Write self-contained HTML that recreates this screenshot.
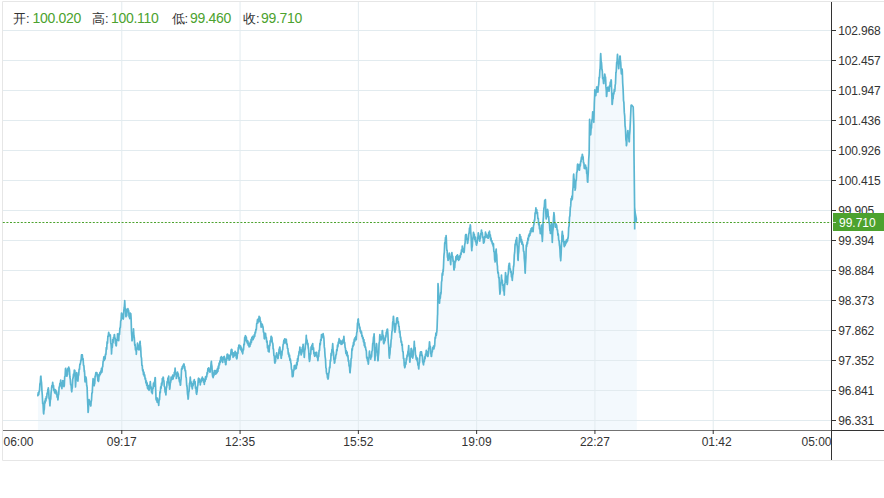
<!DOCTYPE html>
<html><head><meta charset="utf-8"><style>
html,body{margin:0;padding:0;background:#fff;width:884px;height:498px;overflow:hidden}
svg{position:absolute;left:0;top:0;font-family:"Liberation Sans",sans-serif}
</style></head><body>
<svg width="884" height="498" viewBox="0 0 884 498">
<path d="M2.5 460.5V1.5H884M2.5 460.5H884" fill="none" stroke="#e6e6e6"/>
<path d="M37.9 394.4 L39.2 391.8 L40.9 376.1 L41.8 387.9 L42.7 402.2 L43.7 414.0 L44.8 402.2 L46.4 397.0 L47.4 393.1 L48.3 387.9 L49.0 397.0 L50.0 404.8 L51.6 387.9 L52.6 383.3 L54.2 390.5 L56.2 392.4 L58.1 398.3 L59.4 386.6 L60.7 382.0 L61.8 387.2 L62.7 380.7 L64.0 386.6 L65.7 368.3 L67.0 376.1 L67.9 369.6 L69.2 368.3 L70.5 382.6 L71.8 391.8 L73.1 377.3 L74.8 370.3 L75.5 385.7 L76.9 373.1 L77.9 380.1 L79.7 366.0 L80.7 361.8 L81.8 354.8 L82.9 359.0 L84.4 370.3 L84.9 380.1 L86.0 377.3 L87.2 389.9 L88.1 412.4 L89.1 399.7 L90.0 403.9 L90.9 405.4 L92.4 389.9 L93.1 378.7 L94.2 385.7 L95.6 374.5 L97.0 373.1 L98.4 381.5 L99.4 374.5 L100.8 371.7 L102.2 369.6 L103.6 359.0 L105.0 358.3 L106.4 349.2 L108.5 333.6 L110.3 336.0 L111.5 351.6 L112.7 342.0 L114.5 334.8 L116.0 345.6 L117.5 336.0 L118.7 338.4 L120.5 325.1 L121.7 313.0 L123.2 319.1 L124.7 301.6 L126.0 316.7 L127.2 310.7 L128.4 310.0 L129.6 317.9 L130.8 313.7 L132.0 340.8 L133.5 330.5 L134.9 345.6 L136.3 352.6 L137.7 344.2 L139.1 349.8 L140.1 341.4 L141.2 356.9 L142.4 368.1 L143.3 372.3 L144.7 376.5 L146.2 382.1 L147.6 386.3 L149.0 389.2 L150.4 382.8 L151.1 389.2 L152.2 392.0 L153.2 386.3 L154.2 383.5 L155.3 377.9 L156.0 399.0 L157.4 400.4 L158.8 403.9 L159.8 394.8 L160.9 387.8 L162.3 380.7 L163.4 377.9 L164.4 386.3 L165.8 394.1 L167.2 382.1 L168.6 377.2 L169.6 389.2 L171.0 379.3 L172.8 377.2 L174.2 375.1 L175.2 369.5 L176.3 376.5 L177.8 373.7 L179.2 380.0 L180.6 384.7 L181.7 368.6 L184.1 364.6 L185.7 372.6 L188.1 399.1 L190.2 378.2 L192.2 387.9 L193.8 381.4 L195.0 383.1 L196.7 394.3 L198.6 378.2 L200.2 383.1 L202.1 378.2 L204.2 382.3 L206.6 376.6 L208.2 368.6 L210.2 371.8 L211.4 361.4 L212.7 376.6 L214.7 371.8 L217.1 371.8 L219.5 363.8 L221.1 358.1 L222.7 360.5 L224.3 356.5 L225.6 364.6 L227.5 354.1 L229.5 359.7 L231.5 349.3 L233.2 355.7 L235.6 352.5 L236.8 358.9 L238.8 345.3 L241.2 348.5 L242.8 352.5 L245.2 336.4 L247.6 342.9 L249.2 346.1 L251.6 339.6 L254.0 337.2 L256.1 330.0 L257.2 322.1 L259.6 317.2 L261.2 325.3 L262.8 326.1 L264.5 338.9 L265.6 334.1 L267.7 347.0 L268.8 351.8 L270.1 342.2 L271.4 336.5 L273.0 345.4 L274.9 363.1 L276.5 353.4 L278.1 358.2 L279.7 347.0 L281.3 358.2 L283.7 341.4 L286.2 340.5 L288.6 353.4 L290.7 361.4 L292.6 376.7 L294.5 366.3 L296.1 367.9 L298.2 357.4 L299.8 348.6 L301.4 354.2 L303.0 345.4 L304.2 356.6 L306.3 337.3 L308.3 347.0 L309.5 361.4 L311.1 348.6 L312.7 344.6 L314.3 355.0 L316.4 353.4 L318.0 359.8 L319.9 345.4 L321.5 335.7 L323.5 335.7 L324.7 350.2 L326.3 371.1 L328.0 379.1 L329.6 367.9 L331.2 355.0 L332.8 345.4 L334.4 363.1 L336.0 355.0 L337.6 345.4 L339.2 340.5 L341.6 343.8 L344.0 338.1 L345.6 350.2 L348.0 356.6 L350.1 372.7 L352.1 348.6 L354.0 342.2 L355.1 338.8 L356.4 337.2 L358.0 319.5 L359.6 327.5 L361.3 333.1 L363.7 341.2 L366.1 350.0 L366.9 358.1 L368.5 362.9 L369.3 352.4 L370.6 357.3 L371.7 354.8 L372.8 343.6 L374.1 333.9 L374.9 360.5 L376.5 343.6 L378.1 360.5 L379.7 336.4 L381.4 339.6 L382.5 330.7 L383.8 343.6 L385.4 337.2 L387.5 329.1 L389.4 358.1 L391.5 337.2 L393.4 316.3 L395.0 332.3 L396.9 317.9 L398.6 324.3 L400.2 335.5 L402.3 346.8 L404.7 367.7 L406.3 360.5 L407.9 353.2 L408.7 346.8 L409.8 362.1 L411.4 348.4 L412.7 358.1 L414.3 342.8 L415.9 356.4 L417.5 360.5 L418.8 368.5 L420.3 352.4 L422.0 354.8 L423.2 363.7 L424.8 358.1 L426.4 351.6 L428.0 356.4 L429.6 342.0 L431.2 356.4 L432.8 348.4 L434.4 346.8 L435.2 337.2 L436.8 332.3 L437.6 314.6 L438.0 283.7 L439.3 302.2 L440.9 294.1 L442.1 274.8 L443.2 271.6 L444.1 253.9 L444.8 242.7 L446.1 235.5 L446.9 250.7 L448.0 260.4 L449.3 253.1 L450.6 263.6 L451.7 253.9 L453.3 260.4 L454.1 270.0 L455.7 259.6 L457.3 255.5 L458.9 259.6 L460.5 254.7 L462.2 248.3 L464.1 252.3 L465.7 234.6 L467.8 242.7 L469.4 229.8 L470.5 225.8 L471.8 250.7 L473.4 233.0 L475.3 239.5 L476.6 245.1 L478.2 233.8 L479.8 241.1 L481.4 230.6 L483.9 242.7 L485.5 233.8 L487.9 237.9 L489.2 232.2 L491.1 239.5 L493.5 245.9 L495.1 262.0 L496.2 249.1 L497.5 268.4 L499.1 278.1 L499.9 294.1 L501.5 276.4 L503.2 287.7 L504.3 293.3 L505.6 273.2 L507.2 284.5 L509.1 263.6 L510.7 271.6 L512.3 279.7 L513.6 266.8 L515.2 244.3 L516.8 239.5 L518.1 260.4 L519.7 234.6 L521.3 241.1 L522.9 244.3 L524.1 253.9 L525.2 273.2 L526.3 247.0 L528.2 238.2 L530.1 233.4 L531.7 228.6 L533.0 230.2 L534.3 221.3 L535.9 209.3 L537.5 214.1 L538.7 223.7 L540.3 231.8 L541.5 226.9 L542.3 241.4 L543.5 214.1 L544.6 202.0 L545.4 199.6 L546.2 218.9 L547.5 209.3 L549.1 222.1 L550.4 233.4 L551.5 223.7 L552.3 241.4 L553.9 212.5 L555.2 226.9 L556.3 224.5 L557.9 233.4 L559.5 244.6 L560.7 260.7 L561.9 236.6 L562.4 232.5 L564.0 244.6 L566.0 242.6 L568.0 238.5 L569.7 216.4 L571.1 200.3 L572.5 196.3 L573.7 174.1 L575.1 190.2 L576.1 180.2 L577.7 164.1 L579.1 170.1 L581.1 160.1 L582.5 155.0 L584.1 166.1 L586.2 168.1 L587.8 182.2 L589.2 150.0 L589.6 119.4 L590.6 133.5 L591.5 126.5 L592.7 113.8 L593.8 122.3 L594.8 89.9 L595.8 95.5 L596.9 87.0 L598.0 91.3 L599.0 80.3 L600.1 69.1 L600.6 54.6 L601.7 65.9 L602.5 75.5 L603.8 83.6 L604.9 74.7 L605.7 80.3 L606.5 96.4 L607.6 87.6 L608.9 90.0 L610.2 83.6 L611.3 80.3 L612.1 104.4 L613.7 93.2 L615.0 88.4 L616.1 72.3 L617.4 55.4 L618.6 67.5 L620.2 56.2 L621.4 73.9 L622.1 69.1 L623.4 96.4 L625.2 126.4 L626.4 145.7 L627.7 131.2 L629.3 141.7 L631.1 105.2 L631.6 105.0 L633.2 107.0 L633.8 125.0 L634.0 155.0 L634.6 206.0 L634.7 229.6 L636.8 229.7 L636.8 430 L37.9 430 Z" fill="#f3f9fd" stroke="none"/>
<path d="M3 30.5H831M3 60.5H831M3 90.5H831M3 120.5H831M3 150.5H831M3 180.5H831M3 210.5H831M3 240.5H831M3 270.5H831M3 300.5H831M3 330.5H831M3 360.5H831M3 390.5H831M3 420.5H831M121.79 2V430M240.07 2V430M358.36 2V430M476.64 2V430M594.93 2V430M713.21 2V430" stroke="#e2ebef" stroke-width="1" fill="none"/>
<path d="M37.9 394.4 L37.9 395.7 L38.3 392.6 L38.7 394.6 L39.1 391.2 L39.2 391.8 L39.5 390.6 L39.9 384.0 L40.3 382.5 L40.7 376.4 L40.9 376.1 L41.1 379.5 L41.5 382.5 L41.8 387.9 L41.9 390.3 L42.3 395.0 L42.7 403.6 L42.7 402.2 L43.1 404.8 L43.5 412.6 L43.7 414.0 L43.9 410.8 L44.3 409.3 L44.7 401.0 L44.8 402.2 L45.1 402.9 L45.5 398.5 L45.9 401.0 L46.3 396.5 L46.4 397.0 L46.7 398.0 L47.1 393.1 L47.4 393.1 L47.5 393.5 L47.9 389.3 L48.3 389.1 L48.3 387.9 L48.7 391.0 L49.0 397.0 L49.1 398.8 L49.5 399.2 L49.9 405.8 L50.0 404.8 L50.3 400.3 L50.7 399.0 L51.1 392.4 L51.5 389.8 L51.6 387.9 L51.9 385.5 L52.3 386.5 L52.6 383.3 L52.7 382.3 L53.1 386.8 L53.5 385.6 L53.9 390.6 L54.2 390.5 L54.3 389.4 L54.7 393.0 L55.1 389.5 L55.5 392.9 L55.9 390.4 L56.2 392.4 L56.3 394.3 L56.7 391.8 L57.1 397.1 L57.5 395.2 L57.9 400.0 L58.1 398.3 L58.3 395.6 L58.7 394.3 L59.1 387.3 L59.4 386.6 L59.5 387.2 L59.9 383.3 L60.3 384.2 L60.7 380.2 L60.7 382.0 L61.1 385.9 L61.5 384.1 L61.8 387.2 L61.9 388.7 L62.3 382.3 L62.7 382.6 L62.7 380.7 L63.1 380.8 L63.5 386.0 L63.9 384.7 L64.0 386.6 L64.3 385.5 L64.7 376.8 L65.1 376.3 L65.5 368.6 L65.7 368.3 L65.9 370.3 L66.3 370.0 L66.7 376.1 L67.0 376.1 L67.1 373.0 L67.5 374.6 L67.9 368.4 L67.9 369.6 L68.3 370.6 L68.7 367.0 L69.1 369.2 L69.2 368.3 L69.5 370.1 L69.9 377.0 L70.3 379.5 L70.5 382.6 L70.7 384.8 L71.1 384.8 L71.5 390.6 L71.8 391.8 L71.9 389.5 L72.3 387.6 L72.7 379.6 L73.1 377.3 L73.1 378.2 L73.5 374.2 L73.9 375.6 L74.3 370.2 L74.7 372.8 L74.8 370.3 L75.1 374.7 L75.5 385.7 L75.5 386.9 L75.9 380.7 L76.3 379.8 L76.7 372.7 L76.9 373.1 L77.1 376.8 L77.5 376.3 L77.9 380.1 L77.9 381.1 L78.3 375.9 L78.7 374.9 L79.1 369.2 L79.5 369.3 L79.7 366.0 L79.9 364.0 L80.3 364.2 L80.7 361.8 L80.7 360.4 L81.1 360.6 L81.5 355.0 L81.8 354.8 L81.9 357.5 L82.3 354.8 L82.7 359.8 L82.9 359.0 L83.1 358.7 L83.5 365.4 L83.9 365.7 L84.3 371.8 L84.4 370.3 L84.7 374.1 L84.9 380.1 L85.1 381.8 L85.5 376.5 L85.9 378.9 L86.0 377.3 L86.3 379.1 L86.7 385.5 L87.1 387.1 L87.2 389.9 L87.5 398.2 L87.9 406.6 L88.1 412.4 L88.3 410.9 L88.7 403.8 L89.1 399.7 L89.1 401.0 L89.5 400.8 L89.9 404.2 L90.0 403.9 L90.3 403.4 L90.7 406.0 L90.9 405.4 L91.1 402.0 L91.5 400.0 L91.9 392.9 L92.3 392.7 L92.4 389.9 L92.7 384.1 L93.1 378.7 L93.1 379.8 L93.5 379.9 L93.9 385.1 L94.2 385.7 L94.3 384.0 L94.7 383.8 L95.1 376.1 L95.5 376.8 L95.6 374.5 L95.9 372.7 L96.3 374.7 L96.7 372.5 L97.0 373.1 L97.1 375.0 L97.5 374.9 L97.9 380.6 L98.3 379.9 L98.4 381.5 L98.7 380.2 L99.1 374.3 L99.4 374.5 L99.5 375.9 L99.9 372.5 L100.3 374.3 L100.7 371.1 L100.8 371.7 L101.1 372.9 L101.5 368.3 L101.9 372.2 L102.2 369.6 L102.3 367.0 L102.7 367.0 L103.1 361.4 L103.5 360.8 L103.6 359.0 L103.9 356.8 L104.3 360.3 L104.7 356.4 L105.0 358.3 L105.1 358.9 L105.5 354.0 L105.9 354.5 L106.3 347.5 L106.4 349.2 L106.7 349.1 L107.1 341.9 L107.5 343.1 L107.9 336.1 L108.3 336.2 L108.5 333.6 L108.7 332.3 L109.1 335.7 L109.5 334.2 L109.9 336.2 L110.3 336.0 L110.3 334.8 L110.7 342.4 L111.1 344.5 L111.5 351.6 L111.5 353.9 L111.9 346.9 L112.3 347.5 L112.7 342.0 L112.7 339.6 L113.1 342.7 L113.5 337.5 L113.9 338.3 L114.3 334.5 L114.5 334.8 L114.7 337.3 L115.1 338.1 L115.5 343.8 L115.9 342.6 L116.0 345.6 L116.3 345.8 L116.7 339.6 L117.1 340.4 L117.5 336.0 L117.5 333.9 L117.9 337.7 L118.3 335.8 L118.7 338.4 L118.7 340.6 L119.1 333.4 L119.5 334.5 L119.9 328.0 L120.3 327.6 L120.5 325.1 L120.7 321.0 L121.1 320.3 L121.5 313.0 L121.7 313.0 L121.9 316.2 L122.3 314.1 L122.7 318.5 L123.1 316.4 L123.2 319.1 L123.5 317.5 L123.9 309.9 L124.3 307.2 L124.7 301.6 L124.7 300.6 L125.1 308.5 L125.5 308.8 L125.9 316.5 L126.0 316.7 L126.3 313.1 L126.7 315.6 L127.1 309.4 L127.2 310.7 L127.5 311.8 L127.9 308.6 L128.3 311.0 L128.4 310.0 L128.7 311.2 L129.1 317.0 L129.5 315.4 L129.6 317.9 L129.9 318.5 L130.3 313.2 L130.7 315.5 L130.8 313.7 L131.1 318.3 L131.5 331.6 L131.9 337.5 L132.0 340.8 L132.3 339.9 L132.7 334.8 L133.1 334.4 L133.5 330.5 L133.5 328.8 L133.9 336.0 L134.3 337.7 L134.7 344.4 L134.9 345.6 L135.1 344.4 L135.5 349.9 L135.9 349.1 L136.3 352.6 L136.3 354.3 L136.7 348.0 L137.1 349.2 L137.5 343.1 L137.7 344.2 L137.9 346.6 L138.3 345.0 L138.7 349.8 L139.1 349.8 L139.1 349.0 L139.5 347.9 L139.9 342.1 L140.1 341.4 L140.3 344.9 L140.7 347.8 L141.1 356.5 L141.2 356.9 L141.5 358.2 L141.9 365.4 L142.3 365.5 L142.4 368.1 L142.7 370.8 L143.1 369.8 L143.3 372.3 L143.5 374.6 L143.9 372.1 L144.3 376.2 L144.7 376.5 L144.7 374.8 L145.1 379.1 L145.5 378.3 L145.9 383.0 L146.2 382.1 L146.3 380.8 L146.7 385.3 L147.1 382.8 L147.5 388.3 L147.6 386.3 L147.9 385.5 L148.3 389.5 L148.7 387.0 L149.0 389.2 L149.1 390.3 L149.5 385.0 L149.9 386.6 L150.3 381.6 L150.4 382.8 L150.7 387.1 L151.1 389.2 L151.1 386.9 L151.5 392.1 L151.9 389.0 L152.2 392.0 L152.3 393.7 L152.7 388.0 L153.1 388.5 L153.2 386.3 L153.5 383.2 L153.9 386.5 L154.2 383.5 L154.3 382.0 L154.7 381.9 L155.1 377.5 L155.3 377.9 L155.5 384.8 L155.9 394.9 L156.0 399.0 L156.3 400.1 L156.7 397.9 L157.1 402.1 L157.4 400.4 L157.5 398.4 L157.9 402.6 L158.3 400.7 L158.7 405.5 L158.8 403.9 L159.1 400.2 L159.5 399.7 L159.8 394.8 L159.9 391.8 L160.3 392.7 L160.7 386.8 L160.9 387.8 L161.1 388.2 L161.5 383.2 L161.9 385.1 L162.3 380.7 L162.3 378.6 L162.7 380.7 L163.1 377.2 L163.4 377.9 L163.5 380.3 L163.9 380.8 L164.3 386.5 L164.4 386.3 L164.7 386.7 L165.1 392.1 L165.5 391.7 L165.8 394.1 L165.9 394.9 L166.3 388.4 L166.7 387.1 L167.1 381.7 L167.2 382.1 L167.5 382.8 L167.9 378.1 L168.3 379.1 L168.6 377.2 L168.7 376.0 L169.1 385.2 L169.5 385.6 L169.6 389.2 L169.9 388.0 L170.3 383.1 L170.7 382.2 L171.0 379.3 L171.1 377.2 L171.5 379.9 L171.9 377.3 L172.3 379.2 L172.7 375.1 L172.8 377.2 L173.1 378.8 L173.5 375.0 L173.9 376.5 L174.2 375.1 L174.3 372.3 L174.7 374.0 L175.1 368.2 L175.2 369.5 L175.5 372.3 L175.9 373.1 L176.3 376.5 L176.3 378.4 L176.7 374.3 L177.1 375.8 L177.5 372.0 L177.8 373.7 L177.9 375.9 L178.3 373.9 L178.7 378.6 L179.1 377.4 L179.2 380.0 L179.5 381.8 L179.9 380.2 L180.3 385.2 L180.6 384.7 L180.7 381.9 L181.1 379.0 L181.5 369.3 L181.7 368.6 L181.9 369.4 L182.3 366.7 L182.7 368.5 L183.1 365.1 L183.5 366.5 L183.9 363.9 L184.1 364.6 L184.3 366.4 L184.7 366.5 L185.1 370.8 L185.5 370.4 L185.7 372.6 L185.9 376.8 L186.3 378.0 L186.7 385.2 L187.1 387.0 L187.5 393.8 L187.9 396.1 L188.1 399.1 L188.3 398.3 L188.7 392.4 L189.1 391.1 L189.5 383.5 L189.9 382.2 L190.2 378.2 L190.3 377.2 L190.7 382.9 L191.1 381.7 L191.5 386.6 L191.9 385.0 L192.2 387.9 L192.3 389.0 L192.7 383.7 L193.1 385.6 L193.5 381.0 L193.8 381.4 L193.9 383.4 L194.3 379.7 L194.7 384.0 L195.0 383.1 L195.1 381.6 L195.5 388.3 L195.9 387.2 L196.3 393.1 L196.7 394.3 L196.7 393.0 L197.1 391.7 L197.5 386.6 L197.9 385.0 L198.3 378.8 L198.6 378.2 L198.7 379.7 L199.1 378.7 L199.5 381.8 L199.9 380.0 L200.2 383.1 L200.3 385.0 L200.7 380.0 L201.1 382.0 L201.5 378.6 L201.9 379.9 L202.1 378.2 L202.3 377.1 L202.7 380.4 L203.1 378.7 L203.5 382.1 L203.9 379.4 L204.2 382.3 L204.3 384.4 L204.7 379.5 L205.1 381.3 L205.5 376.9 L205.9 379.5 L206.3 376.0 L206.6 376.6 L206.7 376.8 L207.1 372.7 L207.5 373.6 L207.9 368.5 L208.2 368.6 L208.3 369.8 L208.7 367.8 L209.1 370.8 L209.5 369.5 L209.9 372.2 L210.2 371.8 L210.3 369.5 L210.7 368.3 L211.1 363.2 L211.4 361.4 L211.5 363.8 L211.9 366.1 L212.3 373.6 L212.7 376.6 L212.7 375.0 L213.1 377.6 L213.5 372.9 L213.9 375.6 L214.3 370.6 L214.7 371.8 L214.7 373.2 L215.1 370.5 L215.5 374.2 L215.9 370.8 L216.3 373.7 L216.7 370.0 L217.1 371.8 L217.1 372.6 L217.5 368.3 L217.9 371.4 L218.3 366.0 L218.7 368.4 L219.1 363.0 L219.5 363.8 L219.5 364.8 L219.9 360.8 L220.3 362.5 L220.7 357.4 L221.1 358.1 L221.1 360.2 L221.5 356.6 L221.9 361.0 L222.3 357.7 L222.7 360.5 L222.7 362.4 L223.1 357.6 L223.5 359.6 L223.9 356.7 L224.3 356.5 L224.3 357.4 L224.7 357.7 L225.1 362.4 L225.5 361.9 L225.6 364.6 L225.9 364.6 L226.3 359.0 L226.7 360.3 L227.1 354.4 L227.5 354.1 L227.5 355.6 L227.9 354.5 L228.3 358.4 L228.7 355.5 L229.1 360.1 L229.5 359.7 L229.5 358.1 L229.9 359.4 L230.3 354.7 L230.7 355.4 L231.1 350.2 L231.5 349.3 L231.5 350.1 L231.9 349.6 L232.3 354.3 L232.7 352.8 L233.1 357.3 L233.2 355.7 L233.5 352.9 L233.9 356.3 L234.3 352.9 L234.7 355.2 L235.1 351.3 L235.5 354.6 L235.6 352.5 L235.9 352.3 L236.3 358.0 L236.7 357.5 L236.8 358.9 L237.1 357.8 L237.5 353.0 L237.9 353.4 L238.3 347.5 L238.7 347.7 L238.8 345.3 L239.1 345.0 L239.5 347.1 L239.9 345.6 L240.3 349.1 L240.7 346.0 L241.1 350.2 L241.2 348.5 L241.5 348.0 L241.9 351.8 L242.3 349.7 L242.7 353.8 L242.8 352.5 L243.1 349.6 L243.5 350.0 L243.9 344.1 L244.3 344.8 L244.7 337.5 L245.1 337.8 L245.2 336.4 L245.5 335.7 L245.9 340.4 L246.3 337.0 L246.7 341.9 L247.1 340.4 L247.5 343.7 L247.6 342.9 L247.9 341.2 L248.3 345.4 L248.7 343.4 L249.1 346.9 L249.2 346.1 L249.5 343.7 L249.9 346.5 L250.3 342.2 L250.7 344.1 L251.1 339.4 L251.5 342.1 L251.6 339.6 L251.9 337.4 L252.3 340.0 L252.7 336.3 L253.1 339.6 L253.5 336.9 L253.9 338.0 L254.0 337.2 L254.3 334.6 L254.7 336.3 L255.1 332.2 L255.5 333.0 L255.9 329.4 L256.1 330.0 L256.3 329.8 L256.7 323.6 L257.1 323.5 L257.2 322.1 L257.5 319.5 L257.9 322.8 L258.3 318.9 L258.7 321.3 L259.1 316.3 L259.5 319.6 L259.6 317.2 L259.9 317.5 L260.3 322.1 L260.7 321.4 L261.1 327.2 L261.2 325.3 L261.5 323.7 L261.9 327.0 L262.3 324.4 L262.7 327.2 L262.8 326.1 L263.1 327.6 L263.5 332.3 L263.9 332.3 L264.3 338.6 L264.5 338.9 L264.7 335.7 L265.1 337.4 L265.5 333.4 L265.6 334.1 L265.9 337.5 L266.3 337.4 L266.7 342.2 L267.1 341.0 L267.5 348.0 L267.7 347.0 L267.9 345.8 L268.3 351.4 L268.7 349.1 L268.8 351.8 L269.1 351.9 L269.5 345.0 L269.9 345.6 L270.1 342.2 L270.3 340.5 L270.7 341.5 L271.1 336.3 L271.4 336.5 L271.5 339.0 L271.9 337.5 L272.3 342.7 L272.7 342.9 L273.0 345.4 L273.1 348.6 L273.5 349.1 L273.9 355.3 L274.3 356.2 L274.7 362.5 L274.9 363.1 L275.1 359.9 L275.5 361.8 L275.9 355.9 L276.3 356.4 L276.5 353.4 L276.7 352.8 L277.1 356.9 L277.5 355.0 L277.9 358.6 L278.1 358.2 L278.3 355.8 L278.7 355.1 L279.1 349.0 L279.5 350.0 L279.7 347.0 L279.9 347.3 L280.3 353.4 L280.7 351.6 L281.1 358.3 L281.3 358.2 L281.5 355.8 L281.9 355.0 L282.3 350.3 L282.7 349.7 L283.1 344.7 L283.5 343.9 L283.7 341.4 L283.9 340.2 L284.3 342.9 L284.7 338.8 L285.1 342.9 L285.5 339.3 L285.9 342.0 L286.2 340.5 L286.3 339.4 L286.7 344.5 L287.1 344.0 L287.5 348.3 L287.9 348.5 L288.3 354.1 L288.6 353.4 L288.7 352.8 L289.1 356.9 L289.5 355.1 L289.9 360.5 L290.3 358.8 L290.7 361.4 L290.7 362.6 L291.1 363.5 L291.5 369.2 L291.9 369.6 L292.3 376.6 L292.6 376.7 L292.7 374.0 L293.1 376.1 L293.5 371.0 L293.9 370.4 L294.3 365.5 L294.5 366.3 L294.7 368.7 L295.1 365.4 L295.5 369.0 L295.9 367.0 L296.1 367.9 L296.3 368.3 L296.7 362.6 L297.1 365.0 L297.5 358.7 L297.9 361.3 L298.2 357.4 L298.3 355.7 L298.7 355.6 L299.1 351.5 L299.5 351.8 L299.8 348.6 L299.9 347.1 L300.3 352.7 L300.7 349.8 L301.1 355.0 L301.4 354.2 L301.5 351.6 L301.9 352.9 L302.3 347.6 L302.7 347.8 L303.0 345.4 L303.1 344.3 L303.5 351.2 L303.9 351.5 L304.2 356.6 L304.3 357.5 L304.7 350.8 L305.1 349.3 L305.5 343.5 L305.9 342.8 L306.3 335.4 L306.3 337.3 L306.7 340.1 L307.1 340.3 L307.5 344.7 L307.9 343.4 L308.3 348.4 L308.3 347.0 L308.7 350.7 L309.1 358.3 L309.5 360.7 L309.5 361.4 L309.9 359.4 L310.3 353.5 L310.7 354.1 L311.1 346.8 L311.1 348.6 L311.5 349.8 L311.9 345.1 L312.3 346.7 L312.7 343.5 L312.7 344.6 L313.1 349.5 L313.5 347.9 L313.9 353.6 L314.3 354.2 L314.3 355.0 L314.7 356.3 L315.1 352.5 L315.5 355.5 L315.9 352.6 L316.3 355.3 L316.4 353.4 L316.7 352.3 L317.1 357.3 L317.5 357.0 L317.9 360.7 L318.0 359.8 L318.3 356.1 L318.7 356.4 L319.1 350.4 L319.5 350.5 L319.9 343.4 L319.9 345.4 L320.3 344.5 L320.7 339.5 L321.1 340.5 L321.5 334.5 L321.5 335.7 L321.9 337.8 L322.3 334.6 L322.7 336.8 L323.1 333.7 L323.5 336.9 L323.5 335.7 L323.9 338.2 L324.3 346.9 L324.7 349.2 L324.7 350.2 L325.1 356.5 L325.5 359.2 L325.9 367.7 L326.3 368.8 L326.3 371.1 L326.7 373.9 L327.1 373.5 L327.5 377.8 L327.9 376.3 L328.0 379.1 L328.3 378.0 L328.7 373.4 L329.1 372.2 L329.5 367.2 L329.6 367.9 L329.9 367.7 L330.3 360.1 L330.7 361.0 L331.1 353.4 L331.2 355.0 L331.5 355.5 L331.9 349.5 L332.3 349.4 L332.7 343.7 L332.8 345.4 L333.1 350.7 L333.5 352.4 L333.9 359.4 L334.3 360.6 L334.4 363.1 L334.7 362.9 L335.1 358.3 L335.5 358.5 L335.9 354.8 L336.0 355.0 L336.3 354.4 L336.7 349.5 L337.1 350.7 L337.5 345.1 L337.6 345.4 L337.9 346.8 L338.3 342.2 L338.7 343.4 L339.1 338.7 L339.2 340.5 L339.5 343.0 L339.9 340.0 L340.3 342.8 L340.7 341.0 L341.1 344.5 L341.5 341.4 L341.6 343.8 L341.9 344.1 L342.3 340.8 L342.7 343.4 L343.1 339.5 L343.5 340.7 L343.9 336.3 L344.0 338.1 L344.3 342.4 L344.7 342.6 L345.1 347.2 L345.5 348.6 L345.6 350.2 L345.9 353.3 L346.3 350.9 L346.7 355.1 L347.1 352.0 L347.5 356.6 L347.9 355.2 L348.0 356.6 L348.3 361.2 L348.7 360.2 L349.1 366.2 L349.5 366.2 L349.9 372.4 L350.1 372.7 L350.3 369.1 L350.7 366.2 L351.1 358.7 L351.5 358.1 L351.9 349.2 L352.1 348.6 L352.3 350.2 L352.7 345.8 L353.1 346.3 L353.5 342.4 L353.9 344.9 L354.0 342.2 L354.3 339.0 L354.7 341.4 L355.1 337.7 L355.1 338.8 L355.5 339.7 L355.9 336.3 L356.3 339.6 L356.4 337.2 L356.7 332.9 L357.1 331.5 L357.5 323.1 L357.9 322.7 L358.0 319.5 L358.3 319.0 L358.7 324.7 L359.1 323.7 L359.5 328.3 L359.6 327.5 L359.9 327.2 L360.3 331.8 L360.7 330.3 L361.1 333.5 L361.3 333.1 L361.5 331.8 L361.9 336.3 L362.3 335.6 L362.7 338.6 L363.1 337.5 L363.5 341.8 L363.7 341.2 L363.9 339.6 L364.3 345.6 L364.7 342.5 L365.1 347.5 L365.5 346.9 L365.9 350.1 L366.1 350.0 L366.3 350.5 L366.7 358.0 L366.9 358.1 L367.1 357.2 L367.5 361.0 L367.9 359.7 L368.3 364.1 L368.5 362.9 L368.7 358.4 L369.1 357.0 L369.3 352.4 L369.5 351.0 L369.9 356.5 L370.3 355.2 L370.6 357.3 L370.7 359.2 L371.1 355.0 L371.5 356.9 L371.7 354.8 L371.9 351.4 L372.3 350.7 L372.7 343.6 L372.8 343.6 L373.1 342.5 L373.5 337.2 L373.9 336.4 L374.1 333.9 L374.3 338.3 L374.7 355.5 L374.9 360.5 L375.1 357.1 L375.5 355.5 L375.9 347.6 L376.3 347.3 L376.5 343.6 L376.7 344.6 L377.1 352.0 L377.5 352.3 L377.9 360.8 L378.1 360.5 L378.3 356.6 L378.7 353.0 L379.1 343.3 L379.5 341.5 L379.7 336.4 L379.9 334.5 L380.3 338.3 L380.7 337.1 L381.1 340.0 L381.4 339.6 L381.5 337.8 L381.9 337.9 L382.3 330.6 L382.5 330.7 L382.7 335.0 L383.1 335.3 L383.5 342.8 L383.8 343.6 L383.9 341.7 L384.3 342.8 L384.7 338.0 L385.1 340.7 L385.4 337.2 L385.5 335.9 L385.9 337.0 L386.3 332.0 L386.7 333.3 L387.1 329.3 L387.5 330.1 L387.5 329.1 L387.9 334.1 L388.3 342.5 L388.7 345.7 L389.1 355.3 L389.4 358.1 L389.5 356.0 L389.9 353.9 L390.3 347.9 L390.7 347.0 L391.1 340.1 L391.5 338.4 L391.5 337.2 L391.9 331.7 L392.3 330.5 L392.7 322.4 L393.1 320.4 L393.4 316.3 L393.5 316.4 L393.9 322.7 L394.3 323.7 L394.7 331.1 L395.0 332.3 L395.1 330.7 L395.5 329.5 L395.9 323.6 L396.3 323.9 L396.7 318.2 L396.9 317.9 L397.1 319.9 L397.5 317.8 L397.9 322.9 L398.3 321.5 L398.6 324.3 L398.7 326.3 L399.1 326.4 L399.5 332.8 L399.9 331.0 L400.2 335.5 L400.3 337.4 L400.7 337.1 L401.1 342.3 L401.5 341.4 L401.9 345.4 L402.3 344.6 L402.3 346.8 L402.7 351.7 L403.1 351.7 L403.5 358.7 L403.9 358.5 L404.3 365.7 L404.7 366.7 L404.7 367.7 L405.1 366.6 L405.5 362.5 L405.9 364.1 L406.3 358.3 L406.3 360.5 L406.7 359.5 L407.1 355.1 L407.5 356.4 L407.9 351.6 L407.9 353.2 L408.3 351.0 L408.7 345.6 L408.7 346.8 L409.1 354.0 L409.5 355.7 L409.8 362.1 L409.9 362.1 L410.3 356.3 L410.7 356.5 L411.1 348.6 L411.4 348.4 L411.5 350.2 L411.9 351.2 L412.3 357.4 L412.7 355.7 L412.7 358.1 L413.1 355.8 L413.5 349.6 L413.9 348.9 L414.3 341.4 L414.3 342.8 L414.7 348.4 L415.1 347.8 L415.5 355.1 L415.9 355.4 L415.9 356.4 L416.3 359.5 L416.7 357.4 L417.1 360.9 L417.5 358.4 L417.5 360.5 L417.9 365.1 L418.3 364.4 L418.7 369.0 L418.8 368.5 L419.1 363.9 L419.5 362.6 L419.9 355.3 L420.3 353.3 L420.3 352.4 L420.7 351.8 L421.1 355.5 L421.5 351.9 L421.9 355.4 L422.0 354.8 L422.3 355.4 L422.7 362.0 L423.1 362.2 L423.2 363.7 L423.5 364.8 L423.9 360.3 L424.3 361.6 L424.7 356.8 L424.8 358.1 L425.1 358.7 L425.5 354.0 L425.9 355.1 L426.3 350.3 L426.4 351.6 L426.7 353.9 L427.1 351.9 L427.5 356.4 L427.9 354.6 L428.0 356.4 L428.3 354.5 L428.7 348.3 L429.1 348.0 L429.5 341.8 L429.6 342.0 L429.9 346.7 L430.3 346.3 L430.7 353.4 L431.1 354.5 L431.2 356.4 L431.5 356.4 L431.9 352.0 L432.3 351.8 L432.7 347.5 L432.8 348.4 L433.1 349.0 L433.5 346.2 L433.9 348.9 L434.3 346.1 L434.4 346.8 L434.7 345.0 L435.1 337.5 L435.2 337.2 L435.5 338.2 L435.9 333.0 L436.3 335.4 L436.7 331.8 L436.8 332.3 L437.1 327.2 L437.5 315.5 L437.6 314.6 L437.9 293.7 L438.0 283.7 L438.3 287.0 L438.7 295.8 L439.1 297.0 L439.3 302.2 L439.5 303.1 L439.9 297.1 L440.3 298.2 L440.7 292.7 L440.9 294.1 L441.1 292.4 L441.5 282.1 L441.9 280.3 L442.1 274.8 L442.3 273.2 L442.7 275.1 L443.1 269.6 L443.2 271.6 L443.5 266.5 L443.9 256.5 L444.1 253.9 L444.3 252.7 L444.7 243.3 L444.8 242.7 L445.1 243.3 L445.5 237.6 L445.9 238.7 L446.1 235.5 L446.3 238.3 L446.7 248.5 L446.9 250.7 L447.1 250.2 L447.5 257.1 L447.9 258.4 L448.0 260.4 L448.3 260.3 L448.7 255.2 L449.1 255.0 L449.3 253.1 L449.5 253.7 L449.9 258.9 L450.3 258.9 L450.6 263.6 L450.7 264.6 L451.1 257.0 L451.5 256.7 L451.7 253.9 L451.9 252.7 L452.3 257.3 L452.7 256.4 L453.1 261.4 L453.3 260.4 L453.5 261.5 L453.9 269.8 L454.1 270.0 L454.3 267.0 L454.7 267.8 L455.1 261.3 L455.5 261.8 L455.7 259.6 L455.9 256.7 L456.3 259.8 L456.7 255.7 L457.1 258.1 L457.3 255.5 L457.5 254.8 L457.9 259.4 L458.3 256.4 L458.7 260.4 L458.9 259.6 L459.1 257.0 L459.5 259.2 L459.9 255.5 L460.3 257.3 L460.5 254.7 L460.7 253.1 L461.1 254.5 L461.5 249.8 L461.9 251.2 L462.2 248.3 L462.3 246.1 L462.7 251.1 L463.1 248.4 L463.5 252.3 L463.9 251.2 L464.1 252.3 L464.3 250.9 L464.7 244.7 L465.1 243.0 L465.5 235.4 L465.7 234.6 L465.9 237.0 L466.3 234.7 L466.7 239.4 L467.1 238.9 L467.5 243.4 L467.8 242.7 L467.9 241.1 L468.3 239.4 L468.7 234.1 L469.1 233.1 L469.4 229.8 L469.5 228.1 L469.9 229.1 L470.3 224.8 L470.5 225.8 L470.7 231.3 L471.1 236.2 L471.5 246.7 L471.8 250.7 L471.9 248.1 L472.3 246.1 L472.7 238.5 L473.1 237.4 L473.4 233.0 L473.5 232.4 L473.9 235.6 L474.3 234.3 L474.7 239.6 L475.1 236.8 L475.3 239.5 L475.5 241.8 L475.9 240.9 L476.3 244.5 L476.6 245.1 L476.7 242.6 L477.1 243.2 L477.5 237.4 L477.9 237.7 L478.2 233.8 L478.3 232.8 L478.7 238.4 L479.1 236.0 L479.5 240.9 L479.8 241.1 L479.9 238.2 L480.3 238.6 L480.7 233.6 L481.1 234.0 L481.4 230.6 L481.5 230.0 L481.9 233.8 L482.3 232.9 L482.7 237.6 L483.1 237.2 L483.5 243.1 L483.9 241.7 L483.9 242.7 L484.3 241.5 L484.7 236.5 L485.1 237.6 L485.5 232.0 L485.5 233.8 L485.9 236.6 L486.3 234.2 L486.7 237.1 L487.1 235.3 L487.5 238.0 L487.9 235.7 L487.9 237.9 L488.3 238.2 L488.7 232.5 L489.1 233.4 L489.2 232.2 L489.5 231.2 L489.9 236.9 L490.3 234.9 L490.7 239.9 L491.1 238.0 L491.1 239.5 L491.5 241.7 L491.9 240.7 L492.3 243.8 L492.7 243.0 L493.1 246.1 L493.5 243.9 L493.5 245.9 L493.9 251.8 L494.3 251.8 L494.7 259.9 L495.1 260.8 L495.1 262.0 L495.5 259.0 L495.9 251.2 L496.2 249.1 L496.3 252.6 L496.7 254.9 L497.1 263.6 L497.5 266.6 L497.5 268.4 L497.9 273.2 L498.3 272.2 L498.7 277.9 L499.1 277.4 L499.1 278.1 L499.5 287.3 L499.9 293.0 L499.9 294.1 L500.3 291.6 L500.7 282.9 L501.1 282.8 L501.5 275.1 L501.5 276.4 L501.9 281.3 L502.3 280.4 L502.7 285.5 L503.1 284.8 L503.2 287.7 L503.5 291.0 L503.9 289.4 L504.3 295.1 L504.3 293.3 L504.7 284.8 L505.1 282.4 L505.5 272.6 L505.6 273.2 L505.9 277.2 L506.3 276.0 L506.7 282.4 L507.1 281.9 L507.2 284.5 L507.5 282.9 L507.9 275.6 L508.3 273.5 L508.7 266.2 L509.1 264.5 L509.1 263.6 L509.5 263.3 L509.9 268.6 L510.3 268.8 L510.7 272.5 L510.7 271.6 L511.1 271.3 L511.5 276.9 L511.9 276.7 L512.3 280.5 L512.3 279.7 L512.7 274.9 L513.1 273.6 L513.5 266.0 L513.6 266.8 L513.9 264.5 L514.3 255.0 L514.7 252.2 L515.1 244.0 L515.2 244.3 L515.5 244.7 L515.9 240.1 L516.3 243.1 L516.7 237.6 L516.8 239.5 L517.1 245.2 L517.5 248.6 L517.9 259.4 L518.1 260.4 L518.3 254.9 L518.7 251.6 L519.1 243.2 L519.5 238.7 L519.7 234.6 L519.9 234.6 L520.3 239.2 L520.7 236.6 L521.1 242.1 L521.3 241.1 L521.5 239.4 L521.9 244.1 L522.3 241.9 L522.7 244.8 L522.9 244.3 L523.1 245.0 L523.5 251.1 L523.9 251.2 L524.1 253.9 L524.3 258.7 L524.7 263.0 L525.1 272.2 L525.2 273.2 L525.5 264.9 L525.9 257.7 L526.3 245.1 L526.3 247.0 L526.7 246.5 L527.1 242.0 L527.5 243.8 L527.9 238.0 L528.2 238.2 L528.3 240.1 L528.7 235.2 L529.1 236.7 L529.5 233.5 L529.9 235.4 L530.1 233.4 L530.3 230.8 L530.7 232.9 L531.1 228.5 L531.5 230.8 L531.7 228.6 L531.9 227.8 L532.3 231.5 L532.7 229.0 L533.0 230.2 L533.1 231.6 L533.5 225.8 L533.9 224.8 L534.3 220.2 L534.3 221.3 L534.7 220.3 L535.1 212.9 L535.5 213.0 L535.9 207.8 L535.9 209.3 L536.3 212.0 L536.7 209.6 L537.1 213.9 L537.5 212.5 L537.5 214.1 L537.9 218.6 L538.3 218.4 L538.7 224.9 L538.7 223.7 L539.1 223.4 L539.5 228.9 L539.9 228.7 L540.3 233.7 L540.3 231.8 L540.7 228.6 L541.1 229.4 L541.5 225.1 L541.5 226.9 L541.9 235.0 L542.3 239.4 L542.3 241.4 L542.7 234.2 L543.1 221.2 L543.5 215.9 L543.5 214.1 L543.9 208.4 L544.3 206.7 L544.6 202.0 L544.7 200.3 L545.1 202.7 L545.4 199.6 L545.5 201.1 L545.9 213.9 L546.2 218.9 L546.3 217.4 L546.7 216.3 L547.1 211.1 L547.5 211.5 L547.5 209.3 L547.9 210.9 L548.3 217.1 L548.7 216.7 L549.1 223.2 L549.1 222.1 L549.5 224.1 L549.9 230.7 L550.3 230.5 L550.4 233.4 L550.7 232.7 L551.1 225.4 L551.5 225.0 L551.5 223.7 L551.9 231.3 L552.3 242.4 L552.3 241.4 L552.7 232.0 L553.1 228.8 L553.5 217.8 L553.9 213.5 L553.9 212.5 L554.3 215.5 L554.7 223.4 L555.1 224.1 L555.2 226.9 L555.5 227.2 L555.9 223.9 L556.3 226.7 L556.3 224.5 L556.7 225.6 L557.1 230.0 L557.5 229.9 L557.9 235.3 L557.9 233.4 L558.3 234.1 L558.7 240.0 L559.1 240.8 L559.5 245.7 L559.5 244.6 L559.9 248.7 L560.3 256.9 L560.7 259.7 L560.7 260.7 L561.1 253.9 L561.5 243.6 L561.9 239.0 L561.9 236.6 L562.3 231.4 L562.4 232.5 L562.7 235.7 L563.1 235.5 L563.5 241.7 L563.9 242.5 L564.0 244.6 L564.3 246.7 L564.7 241.8 L565.1 245.5 L565.5 241.6 L565.9 243.7 L566.0 242.6 L566.3 240.2 L566.7 242.1 L567.1 239.3 L567.5 240.9 L567.9 237.9 L568.0 238.5 L568.3 236.0 L568.7 227.4 L569.1 226.1 L569.5 217.4 L569.7 216.4 L569.9 215.9 L570.3 208.0 L570.7 205.9 L571.1 198.6 L571.1 200.3 L571.5 200.6 L571.9 196.0 L572.3 199.1 L572.5 196.3 L572.7 191.2 L573.1 186.9 L573.5 175.8 L573.7 174.1 L573.9 177.8 L574.3 179.9 L574.7 187.5 L575.1 188.0 L575.1 190.2 L575.5 188.2 L575.9 180.3 L576.1 180.2 L576.3 180.3 L576.7 172.3 L577.1 171.9 L577.5 164.6 L577.7 164.1 L577.9 166.2 L578.3 164.9 L578.7 169.3 L579.1 168.7 L579.1 170.1 L579.5 170.1 L579.9 164.2 L580.3 165.9 L580.7 161.0 L581.1 161.5 L581.1 160.1 L581.5 157.2 L581.9 158.9 L582.3 154.3 L582.5 155.0 L582.7 158.2 L583.1 156.9 L583.5 163.0 L583.9 162.9 L584.1 166.1 L584.3 168.3 L584.7 165.3 L585.1 168.6 L585.5 165.1 L585.9 168.6 L586.2 168.1 L586.3 167.3 L586.7 173.5 L587.1 174.0 L587.5 181.9 L587.8 182.2 L587.9 178.3 L588.3 171.6 L588.7 159.8 L589.1 153.9 L589.2 150.0 L589.5 125.1 L589.6 119.4 L589.9 125.2 L590.3 127.5 L590.6 133.5 L590.7 134.8 L591.1 128.0 L591.5 127.9 L591.5 126.5 L591.9 120.0 L592.3 119.1 L592.7 111.9 L592.7 113.8 L593.1 118.3 L593.5 118.0 L593.8 122.3 L593.9 120.0 L594.3 103.7 L594.7 94.5 L594.8 89.9 L595.1 90.8 L595.5 95.0 L595.8 95.5 L595.9 93.3 L596.3 92.4 L596.7 87.1 L596.9 87.0 L597.1 89.2 L597.5 87.5 L597.9 92.2 L598.0 91.3 L598.3 86.8 L598.7 84.7 L599.0 80.3 L599.1 77.3 L599.5 77.5 L599.9 69.5 L600.1 69.1 L600.3 64.4 L600.6 54.6 L600.7 53.6 L601.1 61.1 L601.5 62.8 L601.7 65.9 L601.9 69.2 L602.3 71.1 L602.5 75.5 L602.7 78.8 L603.1 77.5 L603.5 83.2 L603.8 83.6 L603.9 81.1 L604.3 80.7 L604.7 74.0 L604.9 74.7 L605.1 77.4 L605.5 77.1 L605.7 80.3 L605.9 86.4 L606.3 90.3 L606.5 96.4 L606.7 96.3 L607.1 90.4 L607.5 90.0 L607.6 87.6 L607.9 87.2 L608.3 91.0 L608.7 88.3 L608.9 90.0 L609.1 91.2 L609.5 85.9 L609.9 86.4 L610.2 83.6 L610.3 82.2 L610.7 83.5 L611.1 79.9 L611.3 80.3 L611.5 87.0 L611.9 96.4 L612.1 104.4 L612.3 104.2 L612.7 99.1 L613.1 98.6 L613.5 93.1 L613.7 93.2 L613.9 93.9 L614.3 89.2 L614.7 91.3 L615.0 88.4 L615.1 85.6 L615.5 83.4 L615.9 73.1 L616.1 72.3 L616.3 70.5 L616.7 62.4 L617.1 61.5 L617.4 55.4 L617.5 54.4 L617.9 61.4 L618.3 62.4 L618.6 67.5 L618.7 68.6 L619.1 63.2 L619.5 61.9 L619.9 56.0 L620.2 56.2 L620.3 59.5 L620.7 62.4 L621.1 70.4 L621.4 73.9 L621.5 72.3 L621.9 71.6 L622.1 69.1 L622.3 71.3 L622.7 83.0 L623.1 89.1 L623.4 96.4 L623.5 100.3 L623.9 102.7 L624.3 112.4 L624.7 115.8 L625.1 126.5 L625.2 126.4 L625.5 129.2 L625.9 139.5 L626.3 141.9 L626.4 145.7 L626.7 144.4 L627.1 135.8 L627.5 134.5 L627.7 131.2 L627.9 130.6 L628.3 136.7 L628.7 135.8 L629.1 141.8 L629.3 141.7 L629.5 135.4 L629.9 131.2 L631.1 105.2 L631.6 105.0 L633.2 107.0 L633.8 125.0 L634.0 155.0 L634.6 206.0 L634.7 229.6" fill="none" stroke="#5ab6d2" stroke-width="1.7" stroke-linejoin="round"/>
<path d="M3 430.5H831" stroke="#737373"/>
<path d="M634.2 203L637.2 219L636.9 222.5L634.2 222.5Z" fill="#5ab6d2"/>
<path d="M2.8 222.5H831" stroke="#4ca22e" stroke-width="1" stroke-dasharray="2 1.6"/>
<path d="M831.5 2V460M831 430.5H884M831 30.5H836M831 60.5H836M831 90.5H836M831 120.5H836M831 150.5H836M831 180.5H836M831 210.5H836M831 240.5H836M831 270.5H836M831 300.5H836M831 330.5H836M831 360.5H836M831 390.5H836M831 420.5H836M121.79 430V434M240.07 430V434M358.36 430V434M476.64 430V434M594.93 430V434M713.21 430V434" stroke="#333" stroke-width="1" fill="none"/>
<g fill="#333" font-size="12" letter-spacing="-0.17"><text x="838.3" y="34.5">102.968</text><text x="838.3" y="64.5">102.457</text><text x="838.3" y="94.5">101.947</text><text x="838.3" y="124.5">101.436</text><text x="838.3" y="154.5">100.926</text><text x="838.3" y="184.5">100.415</text><text x="838.3" y="214.5">99.905</text><text x="838.3" y="244.5">99.394</text><text x="838.3" y="274.5">98.884</text><text x="838.3" y="304.5">98.373</text><text x="838.3" y="334.5">97.862</text><text x="838.3" y="364.5">97.352</text><text x="838.3" y="394.5">96.841</text><text x="838.3" y="424.5">96.331</text></g><g fill="#333" font-size="12"><text x="3.5" y="446">06:00</text><text x="121.79" y="446" text-anchor="middle">09:17</text><text x="240.07" y="446" text-anchor="middle">12:35</text><text x="358.36" y="446" text-anchor="middle">15:52</text><text x="476.64" y="446" text-anchor="middle">19:09</text><text x="594.93" y="446" text-anchor="middle">22:27</text><text x="716.71" y="446" text-anchor="middle">01:42</text><text x="831.5" y="446" text-anchor="end">05:00</text></g>
<rect x="833" y="213" width="51" height="18" fill="#4ca22e"/>
<path d="M833 222.5H836" stroke="#cde6c2"/>
<text x="839" y="226.5" fill="#fff" font-size="12">99.710</text>
<g font-size="13" fill="#333">
<text x="13" y="23">开:</text><text x="92" y="23">高:</text><text x="171.5" y="23">低:</text><text x="243" y="23">收:</text>
</g>
<g font-size="14" fill="#4ca22e" letter-spacing="-0.3">
<text x="32.5" y="23">100.020</text><text x="111" y="23">100.110</text><text x="190" y="23">99.460</text><text x="261" y="23">99.710</text>
</g>
</svg>
</body></html>
